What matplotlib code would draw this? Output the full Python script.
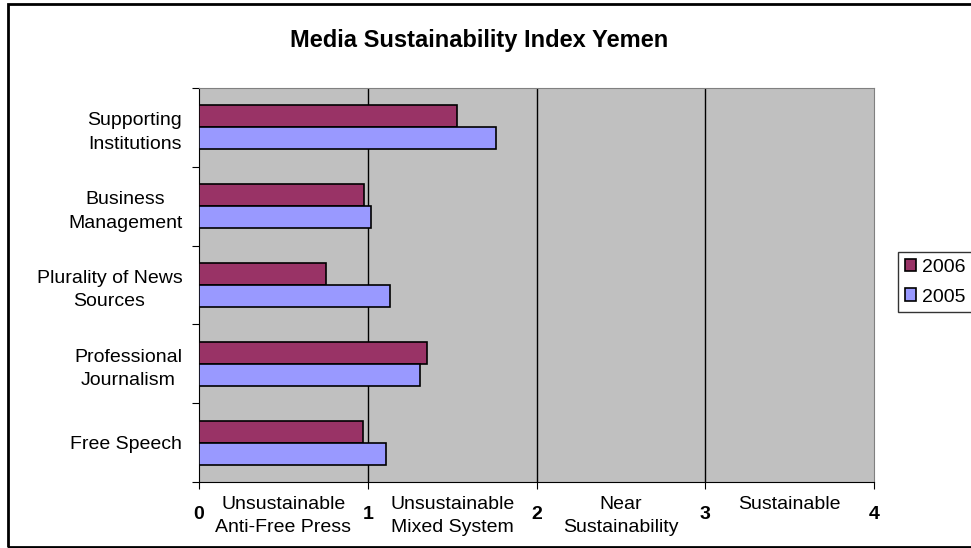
import matplotlib.pyplot as plt
import matplotlib.patches as mpatches
import matplotlib.transforms as mtransforms
import numpy as np

plt.rcParams['font.family'] = ['Liberation Sans', 'DejaVu Sans']

# datos
categorias = ['Free Speech', 'Professional\nJournalism', 'Plurality of News\nSources',
              'Business\nManagement', 'Supporting\nInstitutions']
valores_2006 = [0.97, 1.35, 0.75, 0.98, 1.53]
valores_2005 = [1.11, 1.31, 1.13, 1.02, 1.76]
rangos = ['Unsustainable\nAnti-Free Press', 'Unsustainable\nMixed System',
          'Near\nSustainability', 'Sustainable']
rango_pos = [0.5, 1.5, 2.5, 3.5]

fig = plt.figure(figsize=(9.71, 5.48), dpi=100)
ax = fig.add_axes([199/971, 1-482/548, 675/971, 394/548])
ax.set_facecolor('#C0C0C0')

y = np.arange(len(categorias))
h = 0.28
ax.barh(y + h/2, valores_2006, height=h, color='#993366', edgecolor='black', lw=1.2, label='2006', zorder=3)
ax.barh(y - h/2, valores_2005, height=h, color='#9999FF', edgecolor='black', lw=1.2, label='2005', zorder=3)

ax.set_xlim(0, 4)
ax.set_ylim(-0.5, 4.5)
for g in [1, 2, 3]:
    ax.axvline(g, color='black', lw=1, zorder=1)

ax.set_xticks([0, 1, 2, 3, 4])
ax.set_xticklabels(['0', '1', '2', '3', '4'], fontweight='bold', fontsize=14)
ax.tick_params(axis='x', length=5, direction='out', pad=12)

ax.set_yticks(np.arange(-0.5, 4.6, 1))
ax.set_yticklabels([])
ax.set_yticks(y, minor=True)
ax.set_yticklabels(categorias, minor=True, fontsize=14, ha='right', multialignment='center',
                   linespacing=1.5)
ax.tick_params(axis='y', which='major', length=5, direction='out')
ax.tick_params(axis='y', which='minor', length=0, pad=12)

ax.spines['top'].set_color('#808080')
ax.spines['right'].set_color('#808080')
ax.spines['left'].set_color('black')
ax.spines['bottom'].set_color('black')

trans = mtransforms.blended_transform_factory(ax.transData, fig.transFigure)
for xp, txt in zip(rango_pos, rangos):
    ax.text(xp, 1 - 496/548, txt, transform=trans, ha='center', va='top',
            fontsize=14, linespacing=1.5)

fig.text(0.493, 1 - 40/548, 'Media Sustainability Index Yemen', ha='center', va='center',
         fontsize=17, fontweight='bold')

leg = fig.legend(loc='upper left', bbox_to_anchor=(898/971, 1 - 252/548), fontsize=14,
                 frameon=True, fancybox=False, edgecolor='black', handlelength=0.6,
                 handleheight=0.6, handletextpad=0.3, borderpad=0.35, labelspacing=0.65,
                 borderaxespad=0)
leg.get_frame().set_linewidth(1)
for hnd in leg.legend_handles:
    hnd.set_edgecolor('black')

borde = mpatches.Rectangle((8/971, 1/548), 1.2, 1 - 5/548, transform=fig.transFigure,
                           fill=False, edgecolor='black', lw=2, clip_on=False)
fig.patches.append(borde)

fig.savefig('out.png', dpi=100)
